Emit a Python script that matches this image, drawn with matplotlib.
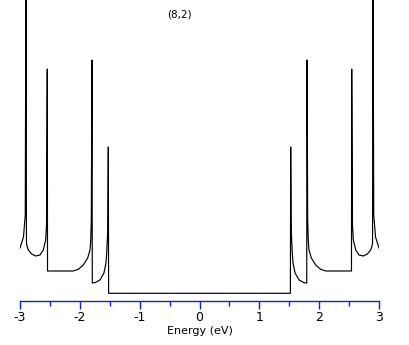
import numpy as np
import matplotlib
matplotlib.use("Agg")
import matplotlib.pyplot as plt
from matplotlib.ticker import MultipleLocator

# Density of states of the (8,2) tube, traced off the left half (E < 0);
# the right half is the mirror image.
energy_left = [-3.000, -2.942, -2.912, -2.900, -2.892, -2.883, -2.861, -2.805,
               -2.738, -2.666, -2.611, -2.571, -2.557, -2.544, -2.540, -2.114,
               -2.026, -1.942, -1.869, -1.830, -1.818, -1.808, -1.797, -1.792,
               -1.747, -1.664, -1.597, -1.563, -1.551, -1.533, -1.524, -1.519,
               0.0]
dos_left = [0.53, 0.64, 0.86, 3.40, 0.58, 0.55, 0.51, 0.47,
            0.45, 0.46, 0.51, 0.61, 0.76, 2.32, 0.30, 0.30,
            0.317, 0.36, 0.43, 0.51, 0.61, 0.81, 2.41, 0.18,
            0.183, 0.21, 0.28, 0.38, 0.48, 0.71, 1.54, 0.077,
            0.077]

title = "(8,2)"
xlabel = "Energy (eV)"
tick_labels = ['-3', '-2', '-1', '0', '1', '2', '3']

energy = np.concatenate([energy_left, -np.array(energy_left[-2::-1])])
dos = np.concatenate([dos_left, np.array(dos_left[-2::-1])])

fig = plt.figure(figsize=(4.09, 3.45), dpi=100)
ax = fig.add_axes([20 / 409, 44 / 345, 359 / 409, 301 / 345])

ax.plot(energy, dos, color='black', lw=0.85)

ax.set_xlim(-3, 3)
ax.set_ylim(0, 3.01)

for side in ['left', 'right', 'top']:
    ax.spines[side].set_visible(False)
ax.spines['bottom'].set_color('#1a1ae0')
ax.spines['bottom'].set_linewidth(1.0)

ax.xaxis.set_minor_locator(MultipleLocator(0.5))
ax.tick_params(axis='x', which='major', direction='out', length=6, width=1.0,
               color='#1a1ae0', labelsize=9, pad=1)
ax.tick_params(axis='x', which='minor', direction='out', length=3.5, width=1.0,
               color='#1a1ae0')
ax.set_yticks([])
ax.set_xticks([-3, -2, -1, 0, 1, 2, 3])
ax.set_xticklabels(tick_labels)
ax.set_xlabel(xlabel, fontsize=8, labelpad=2)

ax.text(0.443, 0.953, title, transform=ax.transAxes, ha='center', va='center',
        fontsize=7.5)

fig.savefig("out.png", dpi=100)
